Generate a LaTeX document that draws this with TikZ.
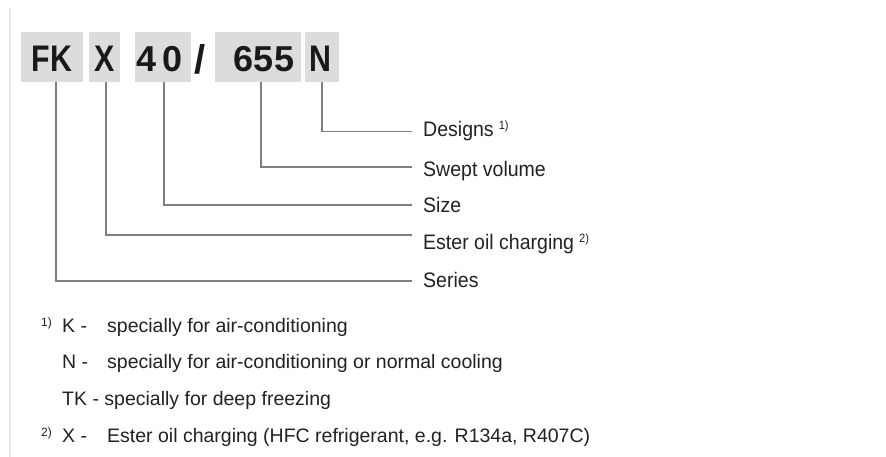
\documentclass[tikz,border=0pt]{standalone}
\usepackage{fontspec}
\setmainfont{Liberation Sans}
\newfontfamily\codefont[FakeStretch=0.82]{Liberation Sans Bold}
\newfontfamily\digitfont{Liberation Sans Bold}
\newfontfamily\lblfont[FakeStretch=0.93]{Liberation Sans}
\definecolor{boxgray}{HTML}{DCDCDC}
\definecolor{linegray}{HTML}{7F7F7F}
\definecolor{txt}{HTML}{222222}
\definecolor{edge}{HTML}{E6E6E6}
\tikzset{
  codebox/.style={fill=boxgray, draw=none},
  codetxt/.style={inner sep=0pt, anchor=base, text=black!90, font=\codefont\fontsize{37}{37}\selectfont},
  digittxt/.style={inner sep=0pt, anchor=base, text=black!90, font=\digitfont\fontsize{36}{36}\selectfont},
  conn/.style={draw=linegray, line width=1.1pt},
  lbl/.style={inner sep=0pt, anchor=base west, text=txt, font=\lblfont\fontsize{21}{23}\selectfont},
  foot/.style={inner sep=0pt, anchor=base west, text=txt, font=\fontsize{19.5}{22}\selectfont},
  fnmark/.style={inner sep=0pt, anchor=base west, text=txt, font=\fontsize{12}{12}\selectfont},
}
\begin{document}
\begin{tikzpicture}[x=1pt,y=-1pt]
\useasboundingbox[fill=white] (0,0) rectangle (886,457);
\draw[edge, line width=2pt] (10,8) -- (10,457);
% code boxes
\path[codebox] (21,32) rectangle (83,82);
\path[codebox] (89,32) rectangle (120,82);
\path[codebox] (135,32) rectangle (191,82);
\path[codebox] (215,32) rectangle (301,82);
\path[codebox] (305,32) rectangle (339,82);
\node[codetxt] (fk) at (52,72) {FK};
\node[codetxt] (x) at (104.5,72) {X};
\node[digittxt] (four) at (147,72) {4};
\node[digittxt] (zero) at (173,72) {0};
\node[digittxt] (sl) at (200,74) {\fontsize{40}{40}\selectfont /};
\node[digittxt] (six) at (264,72) {655};
\node[codetxt] (n) at (320,72) {N};
% label nodes
\node[lbl] (designs) at (423,137) {Designs\hspace{5pt}\raisebox{7pt}{\fontsize{12}{12}\selectfont 1)}};
\node[lbl] (swept) at (423,177) {Swept volume};
\node[lbl] (size) at (423,212) {Size};
\node[lbl] (ester) at (423,250) {Ester oil charging\hspace{5pt}\raisebox{7pt}{\fontsize{12}{12}\selectfont 2)}};
\node[lbl] (series) at (423,287) {Series};
% connectors
\coordinate (dN) at (322,82);
\coordinate (d6) at (261,82);
\coordinate (d4) at (164,82);
\coordinate (dX) at (106,82);
\coordinate (dF) at (56,82);
\coordinate (eD) at (412,131.5);
\coordinate (eS) at (412,167);
\coordinate (eZ) at (412,205);
\coordinate (eE) at (412,235);
\coordinate (eR) at (412,281);
\draw[conn] (dN) |- (eD);
\draw[conn] (d6) |- (eS);
\draw[conn] (d4) |- (eZ);
\draw[conn] (dX) |- (eE);
\draw[conn] (dF) |- (eR);
% footnotes
\node[fnmark] (m1) at (41,326) {1)};
\node[foot] (k1) at (62,332) {K -};
\node[foot] (k2) at (107,332) {specially for air-conditioning};
\node[foot] (n1) at (62,368) {N -};
\node[foot] (n2) at (107,368) {specially for air-conditioning or normal cooling};
\node[foot] (t1) at (62,405) {TK - specially for deep freezing};
\node[fnmark] (m2) at (41,436) {2)};
\node[foot] (x1) at (62,442) {X -};
\node[foot] (x2) at (107,442) {Ester oil charging (HFC refrigerant, e.g. R134a, R407C)};
\end{tikzpicture}
\end{document}
